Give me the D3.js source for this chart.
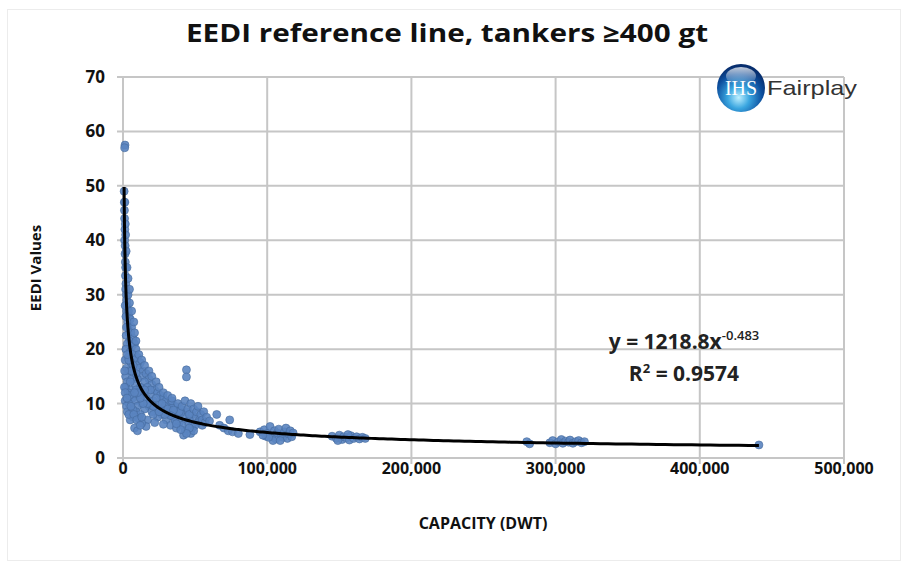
<!DOCTYPE html>
<html>
<head>
<meta charset="utf-8">
<script src="https://cdn.jsdelivr.net/npm/d3@7"></script>
<style>
  html, body { margin: 0; padding: 0; background: #fff; }
  svg { display: block; }
</style>
</head>
<body>
<svg id="chart" width="909" height="569"></svg>
<script>
// Tanker capacity (dwt) and attained EEDI values
const capacity = [
  1400, 1200, 800, 900, 1000, 1100, 1300, 1200, 1500, 1400, 1600, 1800, 1700, 2000, 1900, 2300, 2600, 3500, 3000, 4500,
  2500, 3800, 2800, 4200, 3300, 5000, 3600, 6000, 4000, 5500, 2200, 7000, 4500, 3000, 8000, 6000, 2000, 5000, 9000, 7000,
  3500, 10000, 8000, 1500, 5500, 12000, 9500, 2500, 11000, 14000, 4000, 7500, 13000, 16000, 1800, 6000, 10000, 18000, 3000, 15000,
  8500, 20000, 12000, 2000, 17000, 5000, 22000, 9000, 14000, 24000, 3500, 19000, 11000, 26000, 6500, 16000, 28000, 21000, 1500, 30000,
  8000, 13000, 25000, 4000, 33000, 18000, 29000, 10000, 2500, 36000, 23000, 6000, 40000, 15000, 32000, 20000, 9000, 44000, 3000, 27000,
  38000, 12000, 48000, 35000, 24000, 42000, 7000, 50000, 17000, 46000, 30000, 53000, 39000, 5000, 22000, 45000, 52000, 33000, 41000, 48000,
  37000, 43000, 8000, 10000, 55000, 47000, 42000, 16000, 28000, 13000, 11000, 7000, 4500, 26000, 34000, 31000, 36000, 40000, 19000, 21000,
  31000, 34000, 36000, 38000, 39000, 41000, 43000, 45000, 46000, 47000, 49000, 50000, 51000, 52000, 54000, 55000, 56000, 57000, 49000, 46000,
  44000, 40000, 37000, 35000, 33000, 29000, 27000, 25000, 23000, 21000, 19000, 17000, 15000, 14000, 12000, 10000, 9000, 8000, 7000, 6000,
  5000, 4000, 3000, 2500, 2000, 1500, 6000, 7500, 4500, 3500, 2800, 2200, 1800, 1600, 1300, 8000, 9000, 11000, 13000, 15000,
  18000, 20000, 23000, 25000, 28000, 31000, 34000, 1000, 1200, 1500, 2800, 4000, 5500, 7500, 9500, 12000, 13000,
  44000, 44000, 65000, 58000, 60000, 67000, 70000, 74000, 73000, 76000, 80000, 88000,
  95000, 98000, 100000, 102000, 103000, 105000, 106000, 107000, 108000, 110000, 111000, 112000, 113000, 114000, 115000, 116000, 117000, 118000, 104000, 109000, 99000, 101000, 97000,
  145000, 148000, 150000, 152000, 153000, 155000, 157000, 158000, 160000, 162000, 164000, 166000, 168000, 149000, 156000,
  280000, 282000, 296000, 298000, 300000, 302000, 304000, 305000, 307000, 309000, 310000, 312000, 314000, 316000, 318000, 320000,
  441000
];
const eedi = [
  57.5, 57, 49, 47, 45.5, 44, 42, 40, 39, 37.5, 36, 35, 33.5, 32, 31, 30, 29, 30, 28, 28.5,
  27, 27, 26, 26, 25, 25.5, 24, 24, 23, 23, 22.5, 22, 21.5, 21, 21, 20.5, 20, 19.5, 20, 19,
  18.5, 18.5, 18, 18, 17.5, 17.5, 17, 16.5, 16.5, 16, 16, 15.5, 15, 15.5, 15, 14.5, 14.5, 14.5, 14, 14,
  13.5, 13.5, 13, 13, 13, 12.5, 12.5, 12.5, 12, 12, 12, 11.5, 11.5, 11.5, 11, 11, 11, 10.5, 10.5, 10.5,
  10.5, 10, 10, 10, 10, 9.5, 9.5, 9.5, 9.5, 9.5, 9, 9, 9, 9, 8.5, 8.5, 8.5, 8.5, 8.5, 8,
  8, 8, 8, 7.5, 7.5, 7.5, 7.5, 7.5, 7, 7, 7, 7, 6.5, 7, 6.5, 6.5, 6.5, 6, 6, 5.5,
  5.5, 5, 5.5, 5, 6, 4.5, 4.2, 5.8, 6.2, 6.4, 7.2, 8.8, 11.5, 9, 9.2, 8.2, 8.7, 8.3, 9.8, 8,
  9, 10.5, 7, 10, 8.5, 9.5, 10.5, 9, 8, 10, 9, 6, 8.5, 9.5, 8, 7, 8.5, 6.5, 5, 5.5,
  4.5, 5.2, 6.3, 8.8, 7.8, 8, 10, 8.5, 11, 9.5, 12.5, 10, 12.5, 10, 11, 12, 15.5, 12, 17, 16,
  14, 18, 19, 24, 26, 28, 27, 25, 31, 33, 35, 38, 41, 43, 47, 23, 21.5, 19, 18, 17,
  16, 15, 14, 13, 12, 11.5, 11, 13, 16, 12, 11, 8, 9.5, 8, 7, 6, 7.5,
  16.2, 14.9, 8, 7.5, 6.8, 6, 5.5, 7, 5, 4.8, 4.5, 4.3,
  4.8, 5.2, 4.5, 5.8, 4, 5, 3.5, 4.6, 5.3, 4.2, 3.8, 4.8, 5.5, 3.6, 4.4, 5, 3.9, 4.6, 3.2, 3.2, 4, 3.8, 4.2,
  4, 3.6, 4.2, 3.4, 3.9, 3.7, 3.3, 4.1, 3.6, 3.9, 3.5, 3.8, 3.6, 3.2, 4.3,
  3.0, 2.6, 2.8, 3.2, 2.6, 3.0, 3.4, 2.7, 3.1, 2.9, 3.3, 2.7, 3.0, 3.2, 2.8, 3.0,
  2.4
];

// Power-law reference line y = a·x^b and its fit quality
const fitA = 1218.8;
const fitB = -0.483;
const fitR2 = 0.9574;
const fitRange = [750, 441000];

const xTicks = [0, 100000, 200000, 300000, 400000, 500000];
const yTicks = [0, 10, 20, 30, 40, 50, 60, 70];

const titleText = "EEDI reference line, tankers \u2265400 gt";
const xTitle = "CAPACITY (DWT)";
const yTitle = "EEDI Values";

const svg = d3.select("#chart");
const font = "'Open Sans', 'Liberation Sans', sans-serif";

// faint outer frame
svg.append("rect")
  .attr("x", 7.5).attr("y", 9.5).attr("width", 893).attr("height", 551)
  .attr("fill", "none").attr("stroke", "#ececec").attr("stroke-width", 1);

const x = d3.scaleLinear().domain([0, 500000]).range([123, 844]);
const y = d3.scaleLinear().domain([0, 70]).range([458, 77]);

const grid = "#c6c6c6";

// horizontal gridlines (with short outside ticks)
svg.append("g").selectAll("line").data(yTicks).join("line")
  .attr("x1", 117).attr("x2", x(500000))
  .attr("y1", d => y(d)).attr("y2", d => y(d))
  .attr("stroke", grid).attr("stroke-width", 2);

// vertical gridlines
svg.append("g").selectAll("line").data(xTicks).join("line")
  .attr("x1", d => x(d)).attr("x2", d => x(d))
  .attr("y1", y(70)).attr("y2", y(0) + 6)
  .attr("stroke", grid).attr("stroke-width", 2);

// y tick labels
svg.append("g").selectAll("text").data(yTicks).join("text")
  .attr("x", 105).attr("y", d => y(d) + 6)
  .attr("text-anchor", "end")
  .attr("font-family", font).attr("font-weight", 700).attr("font-size", 17)
  .attr("fill", "#111")
  .text(d => d);

// x tick labels
const fmt = d3.format(",");
svg.append("g").selectAll("text").data(xTicks).join("text")
  .attr("x", d => x(d)).attr("y", 474)
  .attr("text-anchor", "middle")
  .attr("font-family", font).attr("font-weight", 700).attr("font-size", 16)
  .attr("fill", "#111")
  .text(d => fmt(d));

// scatter points
const pts = capacity.map((c, i) => [c, eedi[i]]);
svg.append("g").selectAll("circle").data(pts).join("circle")
  .attr("cx", d => x(d[0])).attr("cy", d => y(d[1]))
  .attr("r", 4)
  .attr("fill", "#5a84c0")
  .attr("stroke", "#45699c").attr("stroke-width", 0.6)
  .attr("fill-opacity", 0.9);

// reference line from the fitted power law
const linePts = d3.range(0, 401).map(i => {
  const t = i / 400;
  const c = Math.exp(Math.log(fitRange[0]) + t * (Math.log(fitRange[1]) - Math.log(fitRange[0])));
  return [c, fitA * Math.pow(c, fitB)];
});
svg.append("path")
  .datum(linePts)
  .attr("d", d3.line().x(d => x(d[0])).y(d => y(d[1])))
  .attr("fill", "none").attr("stroke", "#000").attr("stroke-width", 3)
  .attr("stroke-linejoin", "round");

// title
svg.append("text")
  .attr("x", 447).attr("y", 42)
  .attr("text-anchor", "middle")
  .attr("font-family", font).attr("font-weight", 700).attr("font-size", 25)
  .attr("textLength", 522).attr("lengthAdjust", "spacingAndGlyphs")
  .attr("fill", "#111")
  .text(titleText);

// axis titles
svg.append("text")
  .attr("x", 483).attr("y", 529)
  .attr("text-anchor", "middle")
  .attr("font-family", font).attr("font-weight", 700).attr("font-size", 16)
  .attr("fill", "#111")
  .text(xTitle);

svg.append("text")
  .attr("transform", "translate(41,268) rotate(-90)")
  .attr("text-anchor", "middle")
  .attr("font-family", font).attr("font-weight", 700).attr("font-size", 15)
  .attr("fill", "#111")
  .text(yTitle);

// fit equation
const eq = svg.append("text")
  .attr("x", 684).attr("y", 349)
  .attr("text-anchor", "middle")
  .attr("font-family", font).attr("font-weight", 700).attr("font-size", 21)
  .attr("fill", "#222");
eq.append("tspan").text("y = " + fitA + "x");
eq.append("tspan").attr("dy", -9).attr("font-size", 13).attr("font-weight", 600).text(String(fitB));

const r2 = svg.append("text")
  .attr("x", 684).attr("y", 381)
  .attr("text-anchor", "middle")
  .attr("font-family", font).attr("font-weight", 700).attr("font-size", 21)
  .attr("fill", "#222");
r2.append("tspan").text("R");
r2.append("tspan").attr("dy", -8).attr("font-size", 13).text("2");
r2.append("tspan").attr("dy", 8).text(" = " + fitR2);

// IHS Fairplay badge
const defs = svg.append("defs");
const grad = defs.append("radialGradient").attr("id", "globe")
  .attr("cx", "45%").attr("cy", "70%").attr("r", "65%");
grad.append("stop").attr("offset", "0%").attr("stop-color", "#bff0ff");
grad.append("stop").attr("offset", "35%").attr("stop-color", "#3aa6e0");
grad.append("stop").attr("offset", "75%").attr("stop-color", "#0d4f9e");
grad.append("stop").attr("offset", "100%").attr("stop-color", "#072e6e");
const shine = defs.append("linearGradient").attr("id", "shine")
  .attr("x1", 0).attr("y1", 0).attr("x2", 0).attr("y2", 1);
shine.append("stop").attr("offset", "0%").attr("stop-color", "#fff").attr("stop-opacity", 0.75);
shine.append("stop").attr("offset", "100%").attr("stop-color", "#fff").attr("stop-opacity", 0);

const logo = svg.append("g").attr("transform", "translate(741,88)");
logo.append("circle").attr("r", 24).attr("fill", "url(#globe)");
logo.append("ellipse").attr("cx", 0).attr("cy", -12).attr("rx", 15).attr("ry", 9).attr("fill", "url(#shine)");
logo.append("text")
  .attr("x", 0).attr("y", 7)
  .attr("text-anchor", "middle")
  .attr("font-family", "'Liberation Serif', serif").attr("font-size", 20)
  .attr("fill", "#fff")
  .text("IHS");
svg.append("text")
  .attr("x", 767).attr("y", 95)
  .attr("font-family", "'Liberation Sans', Arial, sans-serif").attr("font-size", 21)
  .attr("textLength", 90).attr("lengthAdjust", "spacingAndGlyphs")
  .attr("fill", "#333")
  .text("Fairplay");
</script>
</body>
</html>
